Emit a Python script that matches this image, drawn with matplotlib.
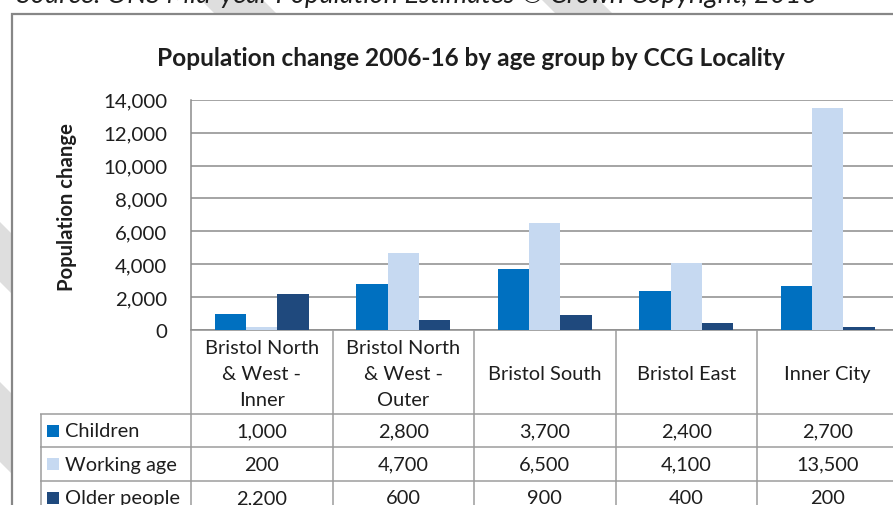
"""Population change 2006-16 by age group by CCG Locality (Excel-style chart with data table)."""
import matplotlib
matplotlib.use("Agg")
import matplotlib.pyplot as plt
import numpy as np
from matplotlib.patches import Polygon, Rectangle
from matplotlib.ticker import StrMethodFormatter

plt.rcParams["font.family"] = ["Lato", "DejaVu Sans"]

localities = [
    "Bristol North\n& West -\nInner",
    "Bristol North\n& West -\nOuter",
    "Bristol South",
    "Bristol East",
    "Inner City",
]
series_names = ["Children", "Working age", "Older people"]
children = [1000, 2800, 3700, 2400, 2700]
working_age = [200, 4700, 6500, 4100, 13500]
older_people = [2200, 600, 900, 400, 200]
colors = ["#0070C0", "#C6D9F1", "#1F497D"]
y_ticks = list(range(0, 14001, 2000))

W, H = 893, 506
TXT = "#1e1e1e"
GRID = "#8c8c8c"
LINE = "#9c9c9c"
FS = 14.4  # table / tick font size


def fx(px):
    return px / W


def fy(py):
    return 1 - py / H


fig = plt.figure(figsize=(W / 100, H / 100), dpi=100)

# faint diagonal watermark stripes behind the chart area
for a, b in [(200, 262), (541, 598), (-283, -223), (-463, -383)]:
    pts = [(a, 0), (b, 0), (b + H, H), (a + H, H)]
    fig.patches.append(Polygon([(fx(x), fy(y)) for x, y in pts], closed=True,
                               transform=fig.transFigure, facecolor="#dedede",
                               edgecolor="none", zorder=0))

# chart area frame (runs off the right and bottom of the crop)
fig.patches.append(Rectangle((fx(12), fy(520)), fx(900) - fx(12), fy(15) - fy(520),
                             transform=fig.transFigure, facecolor="white",
                             edgecolor="#878787", linewidth=1.6, zorder=1))

# source line, cropped at the top edge as in the screenshot
fig.text(fx(17), fy(3.5), "Source: ONS Mid-year Population Estimates \u00a9 Crown Copyright, 2016",
         fontsize=19.5, style="italic", color=TXT, va="baseline", ha="left")

fig.text(fx(471), fy(58), "Population change 2006-16 by age group by CCG Locality",
         fontsize=17.6, fontweight="bold", color=TXT, ha="center", va="center")

# --- bar chart ---
cat_px = 141.5
ax_left, ax_right, ax_top, ax_bot = 191, 191 + 5 * cat_px, 100.7, 331
ax = fig.add_axes([fx(ax_left), fy(ax_bot), fx(ax_right) - fx(ax_left), fy(ax_top) - fy(ax_bot)])
ax.set_zorder(2)
ax.patch.set_alpha(0)

x = np.arange(len(localities))
bw = 1 / 4.5
for i, vals in enumerate([children, working_age, older_people]):
    ax.bar(x + (i - 1) * bw, vals, width=bw, color=colors[i], zorder=3)

ax.set_xlim(-0.5, len(localities) - 0.5)
ax.set_ylim(0, 14000)
ax.set_yticks(y_ticks)
ax.yaxis.set_major_formatter(StrMethodFormatter("{x:,.0f}"))
ax.set_xticks([])
ax.tick_params(axis="y", length=0, pad=17, labelsize=FS + 0.3, labelcolor=TXT)
ax.yaxis.grid(True, color=GRID, linewidth=1.1)
ax.set_axisbelow(True)
for s in ["top", "right"]:
    ax.spines[s].set_visible(False)
for s in ["left", "bottom"]:
    ax.spines[s].set_color(GRID)
    ax.spines[s].set_linewidth(1.1)

fig.text(fx(67), fy(207), "Population change", rotation=90, fontsize=14.6,
         fontweight="bold", color=TXT, ha="center", va="center")

# --- data table under the axis ---
row_px = 33.4
header_h = (415 - ax_bot) / row_px
tbl_left_px = 40
x_l = -0.5 - (ax_left - tbl_left_px) / cat_px
y_b = (H - ax_bot) / row_px
axt = fig.add_axes([fx(tbl_left_px), 0, fx(ax_right) - fx(tbl_left_px), fy(ax_bot)])
axt.set_zorder(2)
axt.patch.set_alpha(0)
axt.set_xlim(x_l, len(localities) - 0.5)
axt.set_ylim(y_b, 0)
axt.axis("off")

axt.vlines(x - 0.5, 0, y_b, color=LINE, linewidth=1.1)
axt.vlines([x_l + 0.004], header_h, y_b, color=LINE, linewidth=1.1)
axt.hlines(header_h + np.arange(3), x_l, len(localities) - 0.5, color=LINE, linewidth=1.1)

for i, name in enumerate(localities):
    axt.text(i, header_h / 2 + 0.04, name, ha="center", va="center", fontsize=FS,
             color=TXT, linespacing=1.62)

key_x = x_l + (53 - tbl_left_px) / cat_px
lbl_x = x_l + (65 - tbl_left_px) / cat_px
for r, (name, vals) in enumerate(zip(series_names, [children, working_age, older_people])):
    yc = header_h + r + 0.5
    axt.scatter([key_x], [yc], marker="s", s=85, color=colors[r], linewidths=0)
    axt.text(lbl_x, yc, name, ha="left", va="center", fontsize=FS, color=TXT)
    for i, v in enumerate(vals):
        axt.text(i, yc, f"{v:,}", ha="center", va="center", fontsize=FS, color=TXT)

fig.savefig("out.png", dpi=100)
